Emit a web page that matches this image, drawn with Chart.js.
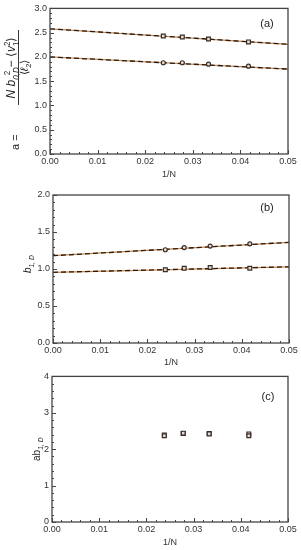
<!DOCTYPE html>
<html>
<head>
<meta charset="utf-8">
<script src="https://cdn.jsdelivr.net/npm/chart.js@4.4.0/dist/chart.umd.min.js"></script>
<style>
  body { margin: 0; background: #fff; }
  #wrap { position: relative; width: 301px; height: 550px; }
  canvas { position: absolute; left: 0; }
</style>
</head>
<body>
<div id="wrap">
  <canvas id="chart-a" width="301" height="180" style="top:0px"></canvas>
  <canvas id="chart-b" width="301" height="186" style="top:182px"></canvas>
  <canvas id="chart-c" width="301" height="182" style="top:368px"></canvas>
</div>
<script>
// ==============================
// Data
// ==============================
const invN = [0.0238, 0.0278, 0.0333, 0.0417];
const fitX = [0, 0.05];

// panel (a)
const aSquare = [2.43, 2.41, 2.37, 2.31];
const aCircle = [1.88, 1.88, 1.85, 1.81];
const aSquareFit = [2.58, 2.26];
const aCircleFit = [2.00, 1.75];

// panel (b)
const bCircle = [1.26, 1.29, 1.31, 1.34];
const bSquare = [0.99, 1.01, 1.02, 1.01];
const bCircleFit = [1.18, 1.36];
const bSquareFit = [0.955, 1.03];

// panel (c)
const cSquare = [2.37, 2.44, 2.42, 2.37];
const cCircle = [2.39, 2.43, 2.43, 2.42];

const xTicks = [0, 0.01, 0.02, 0.03, 0.04, 0.05];

// ==============================
// Styles
// ==============================
const family = "'Liberation Sans', Arial, sans-serif";
const tickFont = { family: family, size: 9 };
const textColor = "#333";
const frameColor = "#444";
const markColor = "#3d2b22";

// y label drawers, kept out of chart options (functions there are scriptable)
const yLabelDrawers = {};

function toPoints(xs, ys) {
    return xs.map(function (x, i) { return { x: x, y: ys[i] }; });
}

function markerSet(ys, shape) {
    return {
        data: toPoints(invN, ys),
        pointStyle: shape,
        pointRadius: shape === "circle" ? 2 : 2.7,
        pointBorderWidth: 1.2,
        pointBorderColor: markColor,
        pointBackgroundColor: "#ddd",
        showLine: false,
        order: 0
    };
}

function fitSets(ys) {
    return [
        {
            data: toPoints(fitX, ys),
            showLine: true,
            pointRadius: 0,
            borderColor: "#c98a4e",
            borderWidth: 1.3,
            order: 2
        },
        {
            data: toPoints(fitX, ys),
            showLine: true,
            pointRadius: 0,
            borderColor: "#2a1a12",
            borderWidth: 1.3,
            borderDash: [5, 3],
            order: 1
        }
    ];
}

// draws a list of text parts along the current x direction
function drawParts(ctx, parts, size, startU, v, dryRun) {
    let u = startU;
    parts.forEach(function (p) {
        const fs = p.s ? size * 0.68 : size;
        ctx.font = (p.i ? "italic " : "") + fs + "px " + family;
        let dv = 0;
        if (p.s === "sub") dv = size * 0.3;
        if (p.s === "sup") dv = -size * 0.42;
        if (!dryRun) ctx.fillText(p.t, u, v + dv);
        const w = ctx.measureText(p.t).width;
        if (!p.stay) u += w;
    });
    return u - startU;
}

function drawRotated(ctx, x, y, fn) {
    ctx.save();
    ctx.translate(x, y);
    ctx.rotate(-Math.PI / 2);
    ctx.fillStyle = "#222";
    ctx.textBaseline = "alphabetic";
    fn(ctx);
    ctx.restore();
}

// ==============================
// Frame, inner ticks, labels
// ==============================
const decorPlugin = {
    id: "decor",
    afterDraw: function (chart) {
        const o = chart.options.plugins.decor;
        const ctx = chart.ctx;
        const area = chart.chartArea;
        const xs = chart.scales.x;
        const ys = chart.scales.y;

        ctx.save();
        ctx.strokeStyle = frameColor;
        ctx.lineWidth = 1;
        // minor + major ticks inside
        for (let v = 0; v <= 0.05 + 1e-9; v += 0.002) {
            const px = Math.round(xs.getPixelForValue(v)) + 0.5;
            const major = Math.abs(v / 0.01 - Math.round(v / 0.01)) < 1e-6;
            ctx.beginPath();
            ctx.moveTo(px, area.bottom);
            ctx.lineTo(px, area.bottom - (major ? 4 : 2));
            ctx.stroke();
        }
        for (let v = o.yMin; v <= o.yMax + 1e-9; v += o.yMinor) {
            const py = Math.round(ys.getPixelForValue(v)) + 0.5;
            const major = Math.abs(v / o.yMajor - Math.round(v / o.yMajor)) < 1e-6;
            ctx.beginPath();
            ctx.moveTo(area.left, py);
            ctx.lineTo(area.left + (major ? 4 : 2), py);
            ctx.stroke();
        }
        // frame
        ctx.lineWidth = 1.3;
        ctx.strokeRect(area.left, area.top, area.right - area.left, area.bottom - area.top);

        // panel letter
        ctx.fillStyle = "#222";
        ctx.font = "11px " + family;
        ctx.textAlign = "center";
        ctx.textBaseline = "middle";
        ctx.fillText(o.letter, area.right - o.letterDx, area.top + o.letterDy);
        ctx.restore();

        const drawer = yLabelDrawers[chart.canvas.id];
        if (drawer) drawer(ctx, area);
    }
};

function makePanel(canvasId, opts) {
    yLabelDrawers[canvasId] = opts.drawYLabel;
    return new Chart(document.getElementById(canvasId), {
        type: "scatter",
        data: { datasets: opts.datasets },
        options: {
            responsive: false,
            animation: false,
            layout: { padding: { top: opts.padTop, right: opts.padRight, left: 0, bottom: 0 } },
            plugins: {
                legend: { display: false },
                tooltip: { enabled: false },
                decor: {
                    yMin: opts.yMin, yMax: opts.yMax, yMajor: opts.yStep, yMinor: opts.yMinor,
                    letter: opts.letter, letterDx: opts.letterDx, letterDy: opts.letterDy
                }
            },
            scales: {
                x: {
                    type: "linear",
                    min: 0,
                    max: 0.05,
                    afterBuildTicks: function (s) {
                        s.ticks = xTicks.map(function (v) { return { value: v }; });
                    },
                    grid: { display: false, drawTicks: false },
                    border: { display: false },
                    ticks: {
                        font: tickFont, color: textColor, padding: 2, maxRotation: 0,
                        callback: function (v) { return v.toFixed(2); }
                    },
                    title: {
                        display: true, text: "1/N", font: tickFont, color: textColor,
                        padding: { top: 0, bottom: opts.titlePad }
                    },
                    afterFit: function (s) { s.height = opts.xHeight; }
                },
                y: {
                    min: opts.yMin,
                    max: opts.yMax,
                    grid: { display: false, drawTicks: false },
                    border: { display: false },
                    ticks: {
                        stepSize: opts.yStep, font: tickFont, color: textColor, padding: 3,
                        callback: function (v) { return v.toFixed(opts.yDigits); }
                    },
                    afterFit: function (s) { s.width = opts.yWidth; }
                }
            }
        },
        plugins: [decorPlugin]
    });
}

// ==============================
// Panel (a)
// ==============================
makePanel("chart-a", {
    datasets: [].concat(fitSets(aSquareFit), fitSets(aCircleFit),
        [markerSet(aSquare, "rect"), markerSet(aCircle, "circle")]),
    padTop: 7, padRight: 13, xHeight: 26, titlePad: 0, yWidth: 50,
    yMin: 0, yMax: 3, yStep: 0.5, yMinor: 0.1, yDigits: 1,
    letter: "(a)", letterDx: 21, letterDy: 16,
    drawYLabel: function (ctx) {
        drawRotated(ctx, 18, 152, function (c) {
            const size = 12;
            const num = [
                { t: "N", i: true }, { t: " b", i: true }, { t: "0,D", s: "sub", i: true, stay: true },
                { t: "  2", s: "sup" }, { t: " \u2212 " }, { t: "\u27E8" }, { t: "v", i: true },
                { t: "1", s: "sub", stay: true }, { t: "2", s: "sup" }, { t: "\u27E9" }
            ];
            const den = [{ t: "\u27E8" }, { t: "\u2113", i: true }, { t: "2", s: "sub" }, { t: "\u27E9" }];
            const barA = 47, barB = 122, mid = (barA + barB) / 2;
            const wn = drawParts(c, num, size, 0, 0, true);
            drawParts(c, num, size, mid - wn / 2, -3, false);
            const wd = drawParts(c, den, 11, 0, 0, true);
            drawParts(c, den, 11, mid - wd / 2, 10, false);
            c.strokeStyle = "#222";
            c.lineWidth = 0.9;
            c.beginPath();
            c.moveTo(barA, 0.5);
            c.lineTo(barB, 0.5);
            c.stroke();
            c.font = "11px " + family;
            c.textBaseline = "middle";
            c.fillText("a =", 2, -2);
        });
    }
});

// ==============================
// Panel (b)
// ==============================
makePanel("chart-b", {
    datasets: [].concat(fitSets(bCircleFit), fitSets(bSquareFit),
        [markerSet(bCircle, "circle"), markerSet(bSquare, "rect")]),
    padTop: 13, padRight: 12, xHeight: 25, titlePad: 0, yWidth: 53,
    yMin: 0, yMax: 2, yStep: 0.5, yMinor: 0.1, yDigits: 1,
    letter: "(b)", letterDx: 22, letterDy: 13,
    drawYLabel: function (ctx, area) {
        drawRotated(ctx, 31, (area.top + area.bottom) / 2 - 5, function (c) {
            const parts = [{ t: "b", i: true }, { t: "1, D", s: "sub", i: true }];
            const w = drawParts(c, parts, 10, 0, 0, true);
            drawParts(c, parts, 10, -w / 2, 0, false);
        });
    }
});

// ==============================
// Panel (c)
// ==============================
makePanel("chart-c", {
    datasets: [markerSet(cSquare, "rect"), markerSet(cCircle, "rect")],
    padTop: 8, padRight: 13, xHeight: 28, titlePad: 2, yWidth: 52,
    yMin: 0, yMax: 4, yStep: 1, yMinor: 0.2, yDigits: 0,
    letter: "(c)", letterDx: 20, letterDy: 21,
    drawYLabel: function (ctx, area) {
        drawRotated(ctx, 40, (area.top + area.bottom) / 2, function (c) {
            const parts = [{ t: "ab" }, { t: "1, D", s: "sub", i: true }];
            const w = drawParts(c, parts, 10, 0, 0, true);
            drawParts(c, parts, 10, -w / 2, 0, false);
        });
    }
});
</script>
</body>
</html>
